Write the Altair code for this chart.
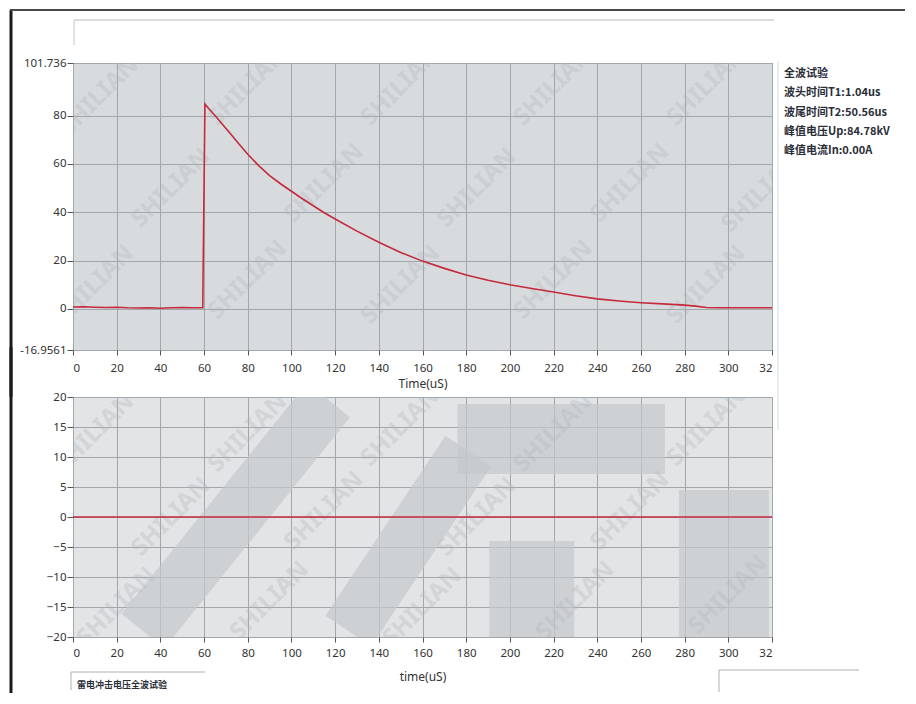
import altair as alt
import pandas as pd

# ---------------- data ----------------
t_top = [0, 5, 10, 15, 20, 25, 30, 35, 40, 45, 50, 55, 59.4, 60.4, 62, 65, 68, 72, 76,
         80, 85, 90, 95, 100, 105, 110, 115, 120, 130, 140, 150, 160, 170, 180, 190,
         200, 210, 220, 230, 240, 250, 260, 270, 280, 285, 290, 295, 300, 310, 320]
v_top = [0.8, 0.9, 0.7, 0.6, 0.7, 0.5, 0.4, 0.5, 0.3, 0.5, 0.6, 0.5, 0.5, 84.8, 83.0, 80.0, 76.8, 72.6, 68.2,
         64.0, 59.3, 55.2, 51.8, 48.7, 45.6, 42.7, 39.8, 37.2, 32.2, 27.6, 23.4, 19.8, 16.8, 14.1, 11.9,
         10.0, 8.5, 7.0, 5.5, 4.2, 3.3, 2.6, 2.1, 1.6, 1.2, 0.6, 0.5, 0.5, 0.5, 0.5]

t_bot = [0, 320]
i_bot = [0, 0]

x_ticks = [0, 20, 40, 60, 80, 100, 120, 140, 160, 180, 200, 220, 240, 260, 280, 300, 320]
y_top_ticks = [-16.9561, 0, 20, 40, 60, 80, 101.736]
y_bot_ticks = [-20, -15, -10, -5, 0, 5, 10, 15, 20]

info_lines = ["全波试验", "波头时间T1:1.04us", "波尾时间T2:50.56us", "峰值电压Up:84.78kV", "峰值电流In:0.00A"]
caption = "雷电冲击电压全波试验"

wm_top_x = [12, 80, 150, 220, 290, 45, 115, 185, 255, 315, 10, 80, 150, 220, 290]
wm_top_y = [88, 92, 92, 92, 92, 50, 52, 50, 52, 48, 10, 12, 10, 12, 10]
wm_bot_x = [10, 80, 150, 220, 290, 45, 115, 185, 255, 20, 90, 160, 230, 300]
wm_bot_y = [14, 14, 15, 14, 15, 0, 1, 0, 1, -15, -14, -15, -14, -13]

band_x = [32, 126, 176, 210, 298]
band_y = [-19, -19, 13, -4, 4.5]
band_x2 = [117, 181, 271, 210, 298]
band_y2 = [19.5, 11, 13, -20, -20]
band_w = [55, 55, 70, 85, 90]

# ---------------- tables ----------------
top_df = pd.DataFrame({"t": t_top, "v": v_top})
bot_df = pd.DataFrame({"t": t_bot, "v": i_bot})
wm_top = pd.DataFrame({"t": wm_top_x, "v": wm_top_y, "s": "SHILIAN"})
wm_bot = pd.DataFrame({"t": wm_bot_x, "v": wm_bot_y, "s": "SHILIAN"})
bands = pd.DataFrame({"t": band_x, "v": band_y, "t2": band_x2, "v2": band_y2, "w": band_w})
one = pd.DataFrame({"a": [0]})
info_df = pd.DataFrame({"txt": ["\n".join(info_lines)]})
cap_df = pd.DataFrame({"txt": [caption]})

W, H1, H2 = 699, 287, 240
RED = "#c42a3c"
FONT = "Noto Sans"

xscale = alt.Scale(domain=[0, 320], nice=False, zero=False)
yscale_top = alt.Scale(domain=[-16.9561, 101.736], nice=False, zero=False)
yscale_bot = alt.Scale(domain=[-20, 20], nice=False, zero=False)

xaxis_top = alt.Axis(values=x_ticks, title="Time(uS)", grid=True,
                     labelExpr="datum.value == 320 ? '32' : datum.label",
                     tickSize=5, labelPadding=7, titlePadding=5)
yaxis_top = alt.Axis(values=y_top_ticks, title=None, grid=True,
                     labelExpr="'' + datum.value", tickSize=6, labelPadding=1)
xaxis_bot = alt.Axis(values=x_ticks, title="time(uS)", grid=True,
                     labelExpr="datum.value == 320 ? '32' : datum.label",
                     tickSize=5, labelPadding=5, titlePadding=13)
yaxis_bot = alt.Axis(values=y_bot_ticks, title=None, grid=True, tickSize=6, labelPadding=1)

# ---------------- top panel ----------------
wm1 = alt.Chart(wm_top).mark_text(angle=315, fontSize=24, fontWeight="bold", font=FONT,
                                   color="#b0b5b9", opacity=0.3, clip=True).encode(
    x=alt.X("t:Q", scale=xscale, axis=xaxis_top),
    y=alt.Y("v:Q", scale=yscale_top, axis=yaxis_top),
    text="s:N")

line1 = alt.Chart(top_df).mark_line(color=RED, strokeWidth=1.6, clip=True).encode(
    x=alt.X("t:Q", scale=xscale, axis=xaxis_top),
    y=alt.Y("v:Q", scale=yscale_top, axis=yaxis_top))

info = alt.Chart(info_df).mark_text(lineBreak="\n", lineHeight=19.3, align="left", baseline="top",
                                    font="Noto Sans CJK SC", fontSize=11, fontWeight="bold",
                                    color="#2a2e38").encode(
    x=alt.value(711), y=alt.value(5), text="txt:N")

left_border1 = alt.Chart(one).mark_rule(color="#1a1a1a", strokeWidth=3).encode(
    x=alt.value(-62), y=alt.value(-53), y2=alt.value(334))
top_border = alt.Chart(one).mark_rule(color="#4a4a4a", strokeWidth=2).encode(
    x=alt.value(-63), x2=alt.value(832), y=alt.value(-53))
top_thin = alt.Chart(one).mark_rule(color="#b8b8b8", strokeWidth=1).encode(
    x=alt.value(1), x2=alt.value(701), y=alt.value(-43))
top_thin_v = alt.Chart(one).mark_rule(color="#c8c8c8", strokeWidth=1).encode(
    x=alt.value(1), y=alt.value(-43), y2=alt.value(-18))
right_v = alt.Chart(one).mark_rule(color="#d4d6d8", strokeWidth=1).encode(
    x=alt.value(705), y=alt.value(-2), y2=alt.value(367))

top = alt.layer(wm1, line1, info, left_border1, top_border, top_thin, top_thin_v, right_v).properties(
    width=W, height=H1, view=alt.ViewBackground(fill="#d7dbde", stroke="#505458", strokeWidth=1))

# ---------------- bottom panel ----------------
band = alt.Chart(bands).mark_rule(color="#c6c9cc", opacity=0.7, strokeCap="butt", clip=True).encode(
    x=alt.X("t:Q", scale=xscale, axis=xaxis_bot),
    y=alt.Y("v:Q", scale=yscale_bot, axis=yaxis_bot),
    x2="t2:Q", y2="v2:Q",
    strokeWidth=alt.StrokeWidth("w:Q", scale=None, legend=None))

wm2 = alt.Chart(wm_bot).mark_text(angle=315, fontSize=24, fontWeight="bold", font=FONT,
                                   color="#b0b5b9", opacity=0.3, clip=True).encode(
    x=alt.X("t:Q", scale=xscale, axis=xaxis_bot),
    y=alt.Y("v:Q", scale=yscale_bot, axis=yaxis_bot),
    text="s:N")

line2 = alt.Chart(bot_df).mark_line(color=RED, strokeWidth=1.4, clip=True).encode(
    x=alt.X("t:Q", scale=xscale, axis=xaxis_bot),
    y=alt.Y("v:Q", scale=yscale_bot, axis=yaxis_bot))

cap = alt.Chart(cap_df).mark_text(align="left", baseline="middle", font="Noto Sans CJK SC",
                                  fontSize=9, fontWeight="bold", color="#2a2e38").encode(
    x=alt.value(4), y=alt.value(288), text="txt:N")
cap_line = alt.Chart(one).mark_rule(color="#b0b0b0", strokeWidth=1).encode(
    x=alt.value(-2), x2=alt.value(132), y=alt.value(275))
cap_line_v = alt.Chart(one).mark_rule(color="#b0b0b0", strokeWidth=1).encode(
    x=alt.value(-2), y=alt.value(275), y2=alt.value(293))
br_line = alt.Chart(one).mark_rule(color="#b0b0b0", strokeWidth=1).encode(
    x=alt.value(646), x2=alt.value(786), y=alt.value(273))
br_line_v = alt.Chart(one).mark_rule(color="#b0b0b0", strokeWidth=1).encode(
    x=alt.value(646), y=alt.value(273), y2=alt.value(295))
left_border2 = alt.Chart(one).mark_rule(color="#1a1a1a", strokeWidth=3).encode(
    x=alt.value(-62), y=alt.value(-50), y2=alt.value(296))

bottom = alt.layer(band, wm2, line2, cap, cap_line, cap_line_v, br_line, br_line_v, left_border2).properties(
    width=W, height=H2, view=alt.ViewBackground(fill="#e2e4e6", stroke="#9ea2a6", strokeWidth=1))

chart = alt.vconcat(top, bottom, spacing=47, bounds="flush").properties(
    padding={"left": 0, "top": 0, "right": 0, "bottom": 0},
    background="white",
).configure_axis(
    labelFont=FONT, labelFontSize=11.5, labelColor="#333333",
    titleFont=FONT, titleFontSize=12, titleFontWeight="normal", titleColor="#333333",
    gridColor="#a2a7ac", gridOpacity=1, gridWidth=1,
    tickColor="#555555", domain=False,
).configure_view(stroke="#505458")

chart.save("out.html", embed_options={"renderer": "svg", "actions": False})
